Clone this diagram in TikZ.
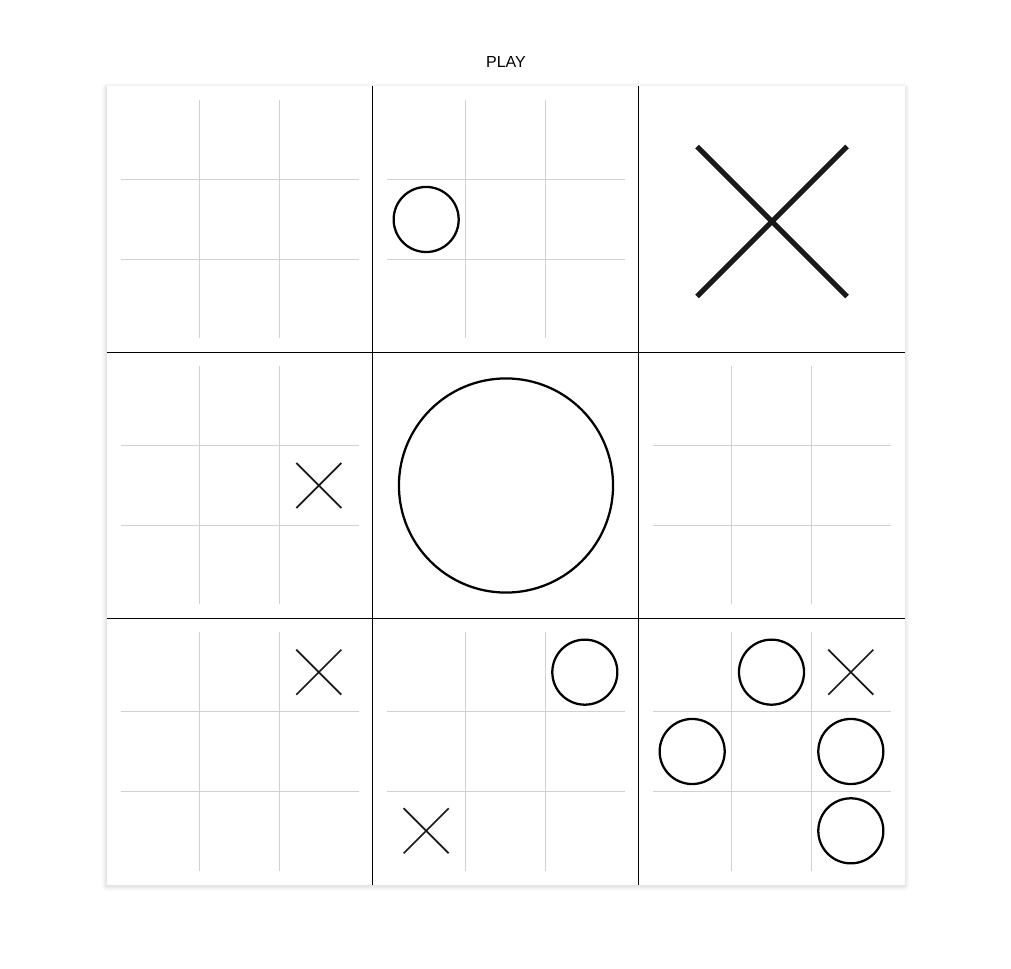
\documentclass[tikz,border=0pt]{standalone}
\usepackage{fontspec}
\setmainfont{Liberation Sans}
\tikzset{
  gridline/.style={draw=black!18, line width=0.75pt},
  bigline/.style={draw=black, line width=1pt},
  omark/.style={draw=black, line width=1.7pt},
  xmark/.style={draw=black!90, line width=1.3pt},
  bigx/.style={draw=black!90, line width=3.75pt},
  title/.style={font=\fontsize{12}{14}\selectfont, text=black, inner sep=0pt}
}
\newcommand\ttSmallGrid[2]{%
  \begin{scope}[shift={({106.5+#2*266+14},{86.5+#1*266+14})}]
    \draw[gridline] (79.33,0) -- (79.33,238) (158.67,0) -- (158.67,238)
                    (0,79.33) -- (238,79.33) (0,158.67) -- (238,158.67);
  \end{scope}}
\newcommand\ttOmark[4]{%
  \draw[omark] ({106.5+#2*266+14+(#4+0.5)*79.33},{86.5+#1*266+14+(#3+0.5)*79.33}) circle[radius=24.4pt];}
\newcommand\ttXmark[4]{%
  \begin{scope}[shift={({106.5+#2*266+14+(#4+0.5)*79.33},{86.5+#1*266+14+(#3+0.5)*79.33})}]
    \draw[xmark] (-22.5,-22.5) -- (22.5,22.5) (-22.5,22.5) -- (22.5,-22.5);
  \end{scope}}
\begin{document}
\begin{tikzpicture}[x=0.75pt,y=-0.75pt]
\useasboundingbox (0,0) rectangle (1011,969);
\fill[white] (0,0) rectangle (1011,969);
% shadow
\foreach \k/\o in {5/0.012,4/0.016,3/0.02,2/0.025,1/0.03}{
  \fill[black,opacity=\o,rounded corners=\k*0.75pt] (106.5-\k,86.5-\k+1.5) rectangle (904.5+\k,884.5+\k+1.5);
}
\fill[white] (106.5,86.5) rectangle (904.5,884.5);
\node[title] (play) at (506,62) {PLAY};
% small grids
\foreach \r/\c in {0/0,0/1,1/0,1/2,2/0,2/1,2/2}{\ttSmallGrid{\r}{\c}}
% big grid
\draw[bigline] (372.5,86.5) -- (372.5,884.5) (638.5,86.5) -- (638.5,884.5)
               (106.5,352.5) -- (904.5,352.5) (106.5,618.5) -- (904.5,618.5);
% marks
\ttOmark{0}{1}{1}{0}
\draw[bigx] (697,146.5) -- (847,296.5) (697,296.5) -- (847,146.5);
\ttXmark{1}{0}{1}{2}
\draw[omark] (506,485.5) circle[radius=80.3pt];
\ttXmark{2}{0}{0}{2}
\ttOmark{2}{1}{0}{2}
\ttXmark{2}{1}{2}{0}
\ttOmark{2}{2}{0}{1}
\ttXmark{2}{2}{0}{2}
\ttOmark{2}{2}{1}{0}
\ttOmark{2}{2}{1}{2}
\ttOmark{2}{2}{2}{2}
\end{tikzpicture}
\end{document}
